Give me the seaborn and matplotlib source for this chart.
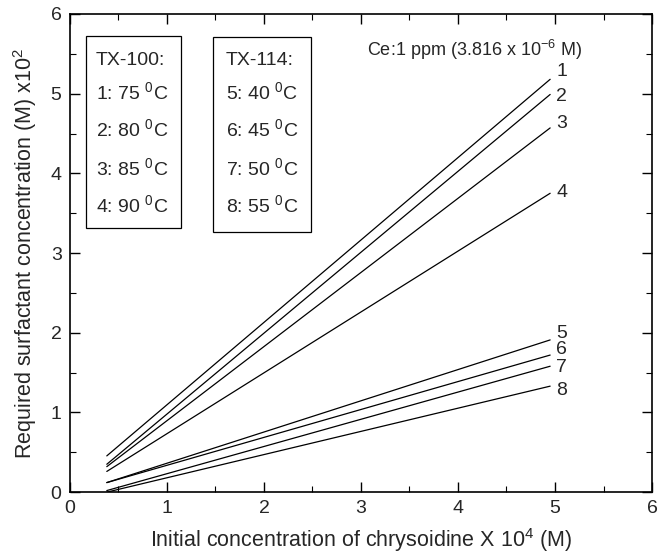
import matplotlib
matplotlib.use("Agg")
import matplotlib.pyplot as plt
import seaborn as sns
import pandas as pd
from matplotlib.ticker import MultipleLocator

sns.set_theme(style="ticks")
plt.rcParams["font.family"] = ["Liberation Sans", "DejaVu Sans"]
plt.rcParams["mathtext.fontset"] = "custom"
plt.rcParams["mathtext.rm"] = "Liberation Sans"
plt.rcParams["mathtext.it"] = "Liberation Sans:italic"

# Fitted straight lines: concentration range of chrysoidine (x 10^4 M)
x_range = [0.38, 4.95]
curve_ids = ["1", "2", "3", "4", "5", "6", "7", "8"]
y_start = [0.455, 0.35, 0.32, 0.26, 0.12, 0.12, 0.02, 0.0]
y_end = [5.18, 4.99, 4.57, 3.75, 1.91, 1.72, 1.58, 1.33]
label_y = [5.28, 4.97, 4.63, 3.76, 1.99, 1.79, 1.57, 1.27]

tx100_lines = ["TX-100:", "1: 75 $^{0}$C", "2: 80 $^{0}$C", "3: 85 $^{0}$C", "4: 90 $^{0}$C"]
tx114_lines = ["TX-114:", "5: 40 $^{0}$C", "6: 45 $^{0}$C", "7: 50 $^{0}$C", "8: 55 $^{0}$C"]
box_text_y = [5.42, 5.02, 4.55, 4.07, 3.60]

rows = []
for cid, y0, y1 in zip(curve_ids, y_start, y_end):
    rows.append({"curve": cid, "x": x_range[0], "y": y0})
    rows.append({"curve": cid, "x": x_range[1], "y": y1})
df = pd.DataFrame(rows)

fig = plt.figure(figsize=(6.66, 5.58), dpi=100)
ax = fig.add_axes([0.105, 0.118, 0.874, 0.857])

sns.lineplot(data=df, x="x", y="y", hue="curve", palette=["black"] * 8,
             legend=False, linewidth=0.9, ax=ax)

for cid, ly in zip(curve_ids, label_y):
    ax.text(5.07, ly, cid, ha="center", va="center", fontsize=14)

ax.text(3.06, 5.55, "Ce:1 ppm (3.816 x 10$^{-6}$ M)", ha="left", va="center", fontsize=13)

for txt, ty in zip(tx100_lines, box_text_y):
    ax.text(0.27, ty, txt, ha="left", va="center", fontsize=14)
for txt, ty in zip(tx114_lines, box_text_y):
    ax.text(1.61, ty, txt, ha="left", va="center", fontsize=14)

ax.add_patch(plt.Rectangle((0.165, 3.32), 0.975, 2.40, fill=False, lw=0.9, ec="black"))
ax.add_patch(plt.Rectangle((1.47, 3.26), 1.02, 2.45, fill=False, lw=0.9, ec="black"))

ax.set_xlim(0, 6)
ax.set_ylim(0, 6)
ax.xaxis.set_major_locator(MultipleLocator(1))
ax.yaxis.set_major_locator(MultipleLocator(1))
ax.xaxis.set_minor_locator(MultipleLocator(0.5))
ax.yaxis.set_minor_locator(MultipleLocator(0.5))
ax.tick_params(which="both", direction="in", top=True, right=True, color="black")
ax.tick_params(which="major", length=7, width=1, labelsize=14, pad=6)
ax.tick_params(which="minor", length=4, width=0.8)
for s in ax.spines.values():
    s.set_linewidth(1.2)
    s.set_color("black")

ax.set_xlabel("Initial concentration of chrysoidine X 10$^{4}$ (M)", fontsize=15.5, labelpad=6)
ax.set_ylabel("Required surfactant concentration (M) x10$^{2}$", fontsize=15.5, labelpad=8)

fig.savefig("out.png", dpi=100)
